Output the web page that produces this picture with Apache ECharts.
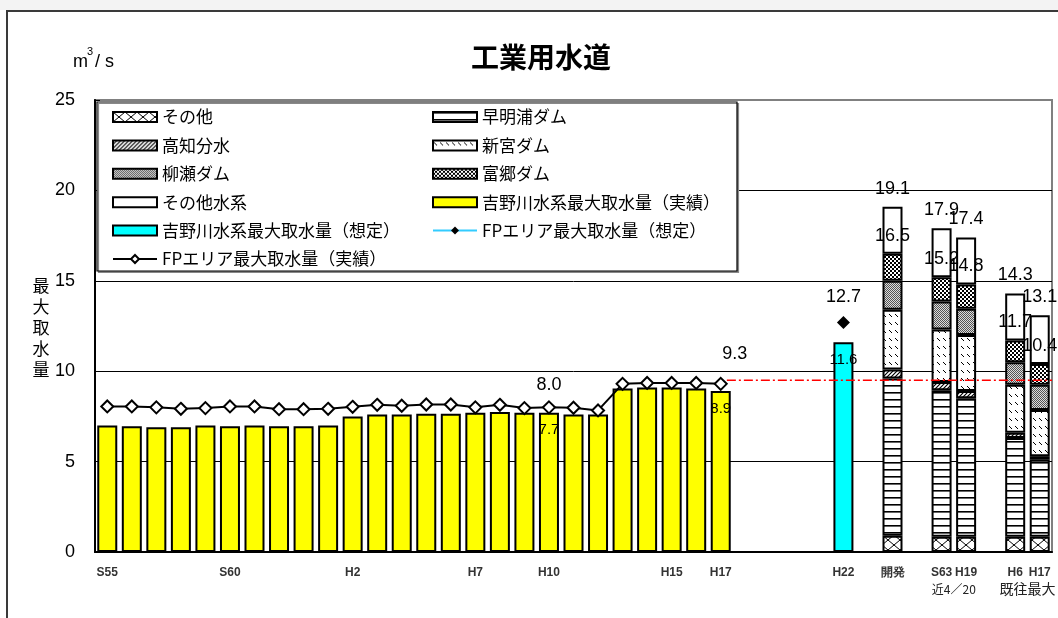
<!DOCTYPE html>
<html>
<head>
<meta charset="utf-8">
<title>工業用水道</title>
<script src="https://cdn.jsdelivr.net/npm/echarts@6/dist/echarts.min.js"></script>
<style>
  html, body { margin: 0; padding: 0; background: #fff; }
  #main { width: 1058px; height: 618px; }
</style>
</head>
<body>
<div id="main"></div>
<script>
// ---- tick labels of the category axis (blank = no label shown) ----
const xLabels = ['S55','','','','','S60','','','','','H2','','','','','H7','','','H10','','','','','H15','','H17',
                 '','','','','H22','','開発','','S63','H19','','H6','H17'];
// second line of the labels under the paired columns
const subTickLabels = ['近4／20', '既往最大'];
const subTickPairs = [[34, 35], [37, 38]];

// ---- 吉野川水系最大取水量（実績） S55 .. H17 (m3/s) ----
const actualYoshino = [7.0, 6.95, 6.9, 6.9, 7.0, 6.95, 7.0, 6.95, 6.95, 7.0,
                       7.5, 7.6, 7.6, 7.65, 7.65, 7.7, 7.75, 7.7, 7.7, 7.6,
                       7.6, 9.05, 9.1, 9.1, 9.05, 8.9];
// ---- FPエリア最大取水量（実績） S55 .. H17 ----
const actualFP = [8.05, 8.05, 8.0, 7.92, 7.96, 8.05, 8.05, 7.9, 7.9, 7.92,
                  8.03, 8.14, 8.09, 8.16, 8.16, 8.0, 8.14, 7.96, 8.0, 7.98,
                  7.83, 9.3, 9.35, 9.35, 9.35, 9.3];
const labelledYears = [18, 25];          // H10, H17

// ---- H22 planned values ----
const plannedIdx = 30;                    // H22
const plannedYoshino = 11.6;
const plannedFP = 12.7;
const fpPlanLevel = 9.5;                  // red dash-dot reference level
const fpPlanFrom = 25.75;                 // starts just after the H17 column

// ---- supply sources of the stacked columns: 開発, S63, H19, H6, H17 ----
const supplyIdx = [32, 34, 35, 37, 38];
const srcOther    = [0.9, 0.85, 0.85, 0.85, 0.85];   // その他
const srcSameura  = [8.7, 8.1, 7.65, 5.45, 4.25];    // 早明浦ダム
const srcKochi    = [0.5, 0.45, 0.4, 0.3, 0.2];      // 高知分水
const srcShingu   = [3.3, 2.9, 3.1, 2.65, 2.55];     // 新宮ダム
const srcYanase   = [1.6, 1.55, 1.45, 1.25, 1.4];    // 柳瀬ダム
const srcTomisato = [1.5, 1.35, 1.35, 1.2, 1.15];    // 富郷ダム
const srcOtherSys = [2.6, 2.7, 2.6, 2.6, 2.7];       // その他水系

const latin = '"Liberation Sans", Arial, sans-serif';
const cjk = '"Noto Sans CJK JP", "Noto Sans CJK SC", sans-serif';

const N = xLabels.length;
const blank = () => new Array(N).fill('-');
function atIndices(idxs, vals) {
  const a = blank();
  idxs.forEach((ix, k) => { a[ix] = vals[k]; });
  return a;
}

// ---- fill patterns ----
function makePattern(w, h, draw, bg) {
  const c = document.createElement('canvas');
  c.width = w; c.height = h;
  const g = c.getContext('2d');
  g.fillStyle = bg || '#fff';
  g.fillRect(0, 0, w, h);
  g.strokeStyle = '#000';
  g.fillStyle = '#000';
  draw(g, w, h);
  return { image: c, repeat: 'repeat' };
}
const patCross = makePattern(12, 10, g => {
  g.lineWidth = 1;
  g.beginPath();
  g.moveTo(0, 0); g.lineTo(12, 10);
  g.moveTo(12, 0); g.lineTo(0, 10);
  g.stroke();
});
const patHoriz = makePattern(4, 7, g => { g.fillRect(0, 0, 4, 1.6); });
const patFwd = makePattern(4, 4, g => {
  g.lineWidth = 1.2;
  g.beginPath();
  g.moveTo(-1, 5); g.lineTo(5, -1);
  g.moveTo(-1, 1); g.lineTo(1, -1);
  g.moveTo(3, 5); g.lineTo(5, 3);
  g.stroke();
});
const patDash = makePattern(6, 8, g => {
  g.lineWidth = 1;
  g.beginPath();
  g.moveTo(1, 2); g.lineTo(4, 5);
  g.stroke();
});
const patGray = makePattern(2, 2, g => {
  g.fillStyle = '#555';
  g.fillRect(0, 0, 1, 1);
  g.fillRect(1, 1, 1, 1);
}, '#dcdcdc');
const patCheck = makePattern(4, 4, g => {
  g.fillRect(0, 0, 2, 2);
  g.fillRect(2, 2, 2, 2);
});

const sums6 = supplyIdx.map((_, k) =>
  srcOther[k] + srcSameura[k] + srcKochi[k] + srcShingu[k] + srcYanase[k] + srcTomisato[k]);
const totals = sums6.map((s, k) => s + srcOtherSys[k]);

const bigLabel = { fontSize: 18, color: '#000', fontFamily: latin };

function stackSeries(name, vals, fill, extra) {
  return Object.assign({
    name: name,
    type: 'bar',
    stack: 'supply',
    barWidth: 20,
    barGap: '-100%',
    data: atIndices(supplyIdx, vals),
    itemStyle: { color: fill, borderColor: '#000', borderWidth: 2 }
  }, extra || {});
}

const yellowData = blank();
actualYoshino.forEach((v, i) => {
  yellowData[i] = labelledYears.includes(i)
    ? { value: v, label: { show: true } }
    : v;
});
const fpData = blank();
actualFP.forEach((v, i) => {
  if (!labelledYears.includes(i)) { fpData[i] = v; return; }
  fpData[i] = i === 25
    ? { value: v, label: { show: true, offset: [14, -8] } }
    : { value: v, label: { show: true } };
});

const NAME_YOSHINO_ACT = '吉野川水系最大取水量（実績）';
const NAME_YOSHINO_PLAN = '吉野川水系最大取水量（想定）';
const NAME_FP_PLAN = 'FPエリア最大取水量（想定）';
const NAME_FP_ACT = 'FPエリア最大取水量（実績）';

const legendCommon = {
  orient: 'vertical',
  top: 103,
  itemWidth: 44,
  itemHeight: 10,
  itemGap: 10.4,
  selectedMode: false,
  textStyle: { fontSize: 17, color: '#000', fontFamily: cjk, lineHeight: 18 }
};

const chart = echarts.init(document.getElementById('main'), null, { renderer: 'canvas' });

const option = {
  backgroundColor: '#fff',
  animation: false,
  title: {
    text: '工業用水道',
    left: 466,
    top: 38,
    textStyle: { fontSize: 28, fontWeight: 'bold', color: '#000', fontFamily: cjk }
  },
  grid: {
    left: 95, right: 6, top: 100, bottom: 66,
    show: true, borderColor: '#808080', borderWidth: 2, backgroundColor: 'transparent'
  },
  legend: [
    Object.assign({}, legendCommon, {
      left: 107,
      data: [
        { name: 'その他', icon: 'rect' },
        { name: '高知分水', icon: 'rect' },
        { name: '柳瀬ダム', icon: 'rect' },
        { name: 'その他水系', icon: 'rect' },
        { name: NAME_YOSHINO_PLAN, icon: 'rect' },
        { name: NAME_FP_ACT }
      ]
    }),
    Object.assign({}, legendCommon, {
      left: 427,
      data: [
        { name: '早明浦ダム', icon: 'rect' },
        { name: '新宮ダム', icon: 'rect' },
        { name: '富郷ダム', icon: 'rect' },
        { name: NAME_YOSHINO_ACT, icon: 'rect' },
        { name: NAME_FP_PLAN }
      ]
    })
  ],
  xAxis: [
    {
      type: 'category',
      data: xLabels,
      axisLine: { lineStyle: { color: '#000', width: 2 } },
      axisTick: { inside: true, length: 4, lineStyle: { color: '#000' } },
      axisLabel: {
        interval: 0, fontSize: 12, fontWeight: 'bold', color: '#333',
        margin: 15, fontFamily: latin
      },
      splitLine: { show: false }
    },
    { type: 'value', min: 0, max: N, show: false }
  ],
  yAxis: {
    type: 'value',
    min: 0, max: 25, interval: 5,
    axisLine: { show: true, lineStyle: { color: '#000', width: 2 } },
    axisTick: { show: true, inside: true, length: 5, lineStyle: { color: '#000' } },
    axisLabel: { fontSize: 18, color: '#000', margin: 20, fontFamily: latin },
    splitLine: { show: true, showMaxLine: false, showMinLine: false, lineStyle: { color: '#000', width: 1 } }
  },
  series: [
    stackSeries('その他', srcOther, patCross),
    stackSeries('早明浦ダム', srcSameura, patHoriz),
    stackSeries('高知分水', srcKochi, patFwd),
    stackSeries('新宮ダム', srcShingu, patDash),
    stackSeries('柳瀬ダム', srcYanase, patGray),
    stackSeries('富郷ダム', srcTomisato, patCheck, {
      z: 3,
      label: Object.assign({
        show: true, position: 'top', distance: 9,
        formatter: p => sums6[supplyIdx.indexOf(p.dataIndex)].toFixed(1)
      }, bigLabel)
    }),
    stackSeries('その他水系', srcOtherSys, '#fff', {
      label: Object.assign({
        show: true, position: 'top', distance: 9,
        formatter: p => totals[supplyIdx.indexOf(p.dataIndex)].toFixed(1)
      }, bigLabel)
    }),
    {
      name: NAME_YOSHINO_ACT,
      type: 'bar',
      barWidth: 20,
      barGap: '-100%',
      data: yellowData,
      itemStyle: { color: '#ffff00', borderColor: '#000', borderWidth: 2 },
      label: {
        show: false, position: 'insideTop', distance: 10,
        fontSize: 15, color: '#000', fontFamily: latin,
        formatter: p => Number(p.value).toFixed(1)
      }
    },
    {
      name: NAME_YOSHINO_PLAN,
      type: 'bar',
      barWidth: 20,
      barGap: '-100%',
      data: atIndices([plannedIdx], [plannedYoshino]),
      itemStyle: { color: '#00ffff', borderColor: '#000', borderWidth: 2 },
      label: {
        show: true, position: 'insideTop', distance: 10,
        fontSize: 15, color: '#000', fontFamily: latin,
        formatter: p => Number(p.value).toFixed(1)
      }
    },
    {
      name: NAME_FP_PLAN,
      type: 'line',
      data: atIndices([plannedIdx], [plannedFP]),
      symbol: 'diamond',
      symbolSize: 13,
      itemStyle: { color: '#000' },
      lineStyle: { color: '#33ccff', width: 2 },
      label: Object.assign({
        show: true, position: 'top', distance: 10,
        formatter: p => Number(p.value).toFixed(1)
      }, bigLabel),
      z: 4
    },
    {
      name: NAME_FP_ACT,
      type: 'line',
      data: fpData,
      symbol: 'diamond',
      symbolSize: 12,
      showAllSymbol: true,
      itemStyle: { color: '#fff', borderColor: '#000', borderWidth: 2 },
      lineStyle: { color: '#000', width: 2 },
      label: Object.assign({
        show: false, position: 'top', distance: 6,
        formatter: p => Number(p.value).toFixed(1)
      }, bigLabel),
      z: 4
    },
    {
      name: 'FP計画',
      type: 'line',
      xAxisIndex: 1,
      data: [[fpPlanFrom, fpPlanLevel], [N, fpPlanLevel]],
      symbol: 'none',
      lineStyle: { color: '#ff0000', width: 1.5, type: [9, 3, 2, 3] },
      silent: true,
      z: 3
    }
  ]
};

chart.setOption(option);

// ---- frame, legend box, axis titles and the second tick-label line ----
const subTexts = subTickPairs.map((pair, k) => {
  const x0 = chart.convertToPixel({ xAxisIndex: 0 }, pair[0]);
  const x1 = chart.convertToPixel({ xAxisIndex: 0 }, pair[1]);
  return {
    type: 'text',
    z: 5,
    style: {
      x: (x0 + x1) / 2, y: 589,
      text: subTickLabels[k],
      align: 'center', verticalAlign: 'middle',
      font: (k === 0 ? '12px ' : '14px ') + cjk,
      fill: '#222'
    }
  };
});

chart.setOption({
  graphic: [
    { type: 'rect', z: 0, shape: { x: 0, y: 0, width: 1058, height: 10 }, style: { fill: '#f3f3f3' } },
    { type: 'polyline', z: 5, shape: { points: [[7, 618], [7, 11], [1058, 11]] },
      style: { stroke: '#3a3a3a', lineWidth: 2, fill: null } },
    { type: 'rect', z: 3, shape: { x: 97, y: 102, width: 640, height: 169 },
      style: { fill: '#fff', stroke: '#000', lineWidth: 1.2,
               shadowColor: '#888', shadowOffsetX: 1.5, shadowOffsetY: 1.5 } },
    { type: 'text', z: 5, style: { x: 73, y: 62, text: 'm', font: '18px ' + latin, fill: '#000', verticalAlign: 'middle' } },
    { type: 'text', z: 5, style: { x: 87, y: 52, text: '3', font: '11px ' + latin, fill: '#000', verticalAlign: 'middle' } },
    { type: 'text', z: 5, style: { x: 95, y: 62, text: '/ s', font: '18px ' + latin, fill: '#000', verticalAlign: 'middle' } },
    { type: 'text', z: 5, style: { x: 41, y: 328, text: '最\n大\n取\n水\n量', font: '17px ' + cjk,
      lineHeight: 21, fill: '#000', align: 'center', verticalAlign: 'middle' } }
  ].concat(subTexts)
});
</script>
</body>
</html>
